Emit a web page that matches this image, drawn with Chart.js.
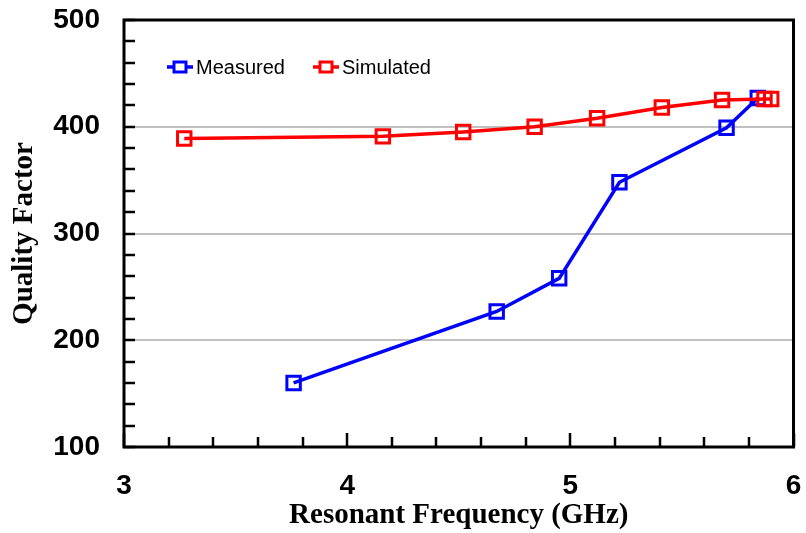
<!DOCTYPE html>
<html lang="en">
<head>
  <meta charset="UTF-8">
  <title>Quality Factor vs Resonant Frequency</title>
  <script src="https://cdn.jsdelivr.net/npm/chart.js"></script>
  <style>
    html, body { margin: 0; padding: 0; background: #fff; }
    #wrap { width: 806px; height: 533px; }
  </style>
</head>
<body>
<div id="wrap"><canvas id="grafik" width="806" height="533"></canvas></div>

<script>
  // data
  const measuredFreq = [3.76, 4.67, 4.95, 5.22, 5.70, 5.84];
  const measuredQ    = [160, 227, 258, 348, 399, 427];
  const simFreq = [3.27, 4.16, 4.52, 4.84, 5.12, 5.41, 5.68, 5.87, 5.90];
  const simQ    = [389, 391, 395, 400, 408, 418, 425, 426, 426];
  const xTicks = [3, 4, 5, 6];
  const yTicks = [100, 200, 300, 400, 500];
  const gridValues = [200, 300, 400];

  const toPoints = (xs, ys) => xs.map((x, i) => ({ x: x, y: ys[i] }));

  const tickFont = { family: 'Arial, "Liberation Sans", sans-serif', size: 28, weight: 'bold' };
  const titleFont = { family: '"Times New Roman", "Liberation Serif", serif', size: 29, weight: 'bold' };

  // box border, inward ticks and the legend inside the plot
  const kotakPlugin = {
    id: 'kotak',
    afterDraw(chart) {
      const ctx = chart.ctx;
      const a = chart.chartArea;
      const sx = chart.scales.x, sy = chart.scales.y;
      ctx.save();
      ctx.strokeStyle = '#000';
      ctx.lineWidth = 2.5;
      // minor + major ticks on x
      for (let v = 3; v <= 6.001; v += 0.2) {
        const px = Math.round(sx.getPixelForValue(v));
        const major = Math.abs(v - Math.round(v)) < 0.01;
        ctx.beginPath();
        ctx.moveTo(px, a.bottom);
        ctx.lineTo(px, a.bottom - (major ? 14 : 10));
        ctx.stroke();
      }
      // ticks on y
      for (let v = 100; v <= 500; v += 20) {
        const py = Math.round(sy.getPixelForValue(v));
        ctx.beginPath();
        ctx.moveTo(a.left, py);
        ctx.lineTo(a.left + 11, py);
        ctx.stroke();
      }
      ctx.lineWidth = 3;
      ctx.strokeRect(a.left, a.top, a.right - a.left, a.bottom - a.top);

      // legend
      const items = [
        { label: 'Measured', color: '#0000ff', x: 167 },
        { label: 'Simulated', color: '#ff0000', x: 313 }
      ];
      const ly = 67;
      ctx.font = '20px Arial, "Liberation Sans", sans-serif';
      ctx.textBaseline = 'middle';
      items.forEach(it => {
        ctx.strokeStyle = it.color;
        ctx.lineWidth = 3.5;
        ctx.beginPath();
        ctx.moveTo(it.x, ly);
        ctx.lineTo(it.x + 26, ly);
        ctx.stroke();
        ctx.fillStyle = '#fff';
        ctx.fillRect(it.x + 7, ly - 5, 12, 10);
        ctx.lineWidth = 3;
        ctx.strokeRect(it.x + 7, ly - 5, 12, 10);
        ctx.fillStyle = '#000';
        ctx.fillText(it.label, it.x + 29, ly + 1);
      });
      ctx.restore();
    }
  };

  const noPad = s => { s.paddingLeft = 0; s.paddingRight = 0; s.paddingTop = 0; s.paddingBottom = 0; };

  new Chart(document.getElementById('grafik').getContext('2d'), {
    type: 'line',
    data: {
      datasets: [
        {
          label: 'Simulated',
          data: toPoints(simFreq, simQ),
          borderColor: '#ff0000',
          borderWidth: 3.5,
          pointStyle: 'rect',
          pointRadius: 9.5,
          pointBorderWidth: 3,
          pointBackgroundColor: 'rgba(255,255,255,0)',
          tension: 0,
          fill: false
        },
        {
          label: 'Measured',
          data: toPoints(measuredFreq, measuredQ),
          borderColor: '#0000ff',
          borderWidth: 3.5,
          pointStyle: 'rect',
          pointRadius: 9.5,
          pointBorderWidth: 3,
          pointBackgroundColor: 'rgba(255,255,255,0)',
          tension: 0,
          fill: false
        }
      ]
    },
    options: {
      responsive: false,
      animation: false,
      events: [],
      layout: { padding: { top: 20, right: 10, left: 0, bottom: 0 } },
      plugins: { legend: { display: false }, tooltip: { enabled: false } },
      scales: {
        x: {
          type: 'linear',
          min: 3, max: 6,
          afterBuildTicks: s => { s.ticks = xTicks.map(v => ({ value: v })); },
          afterFit: s => { s.height = 86; noPad(s); },
          grid: { display: false, drawTicks: false },
          border: { display: false },
          ticks: { padding: 22, color: '#000', font: tickFont, maxRotation: 0 },
          title: {
            display: true,
            text: 'Resonant Frequency (GHz)',
            color: '#000',
            padding: { top: 0, bottom: 0 },
            font: titleFont
          }
        },
        y: {
          min: 100, max: 500,
          afterBuildTicks: s => { s.ticks = yTicks.map(v => ({ value: v })); },
          afterFit: s => { s.width = 124; noPad(s); },
          grid: {
            drawTicks: false,
            lineWidth: 2,
            color: c => gridValues.includes(c.tick.value) ? '#c0c0c0' : 'rgba(0,0,0,0)'
          },
          border: { display: false },
          ticks: { padding: 24, color: '#000', font: tickFont },
          title: {
            display: true,
            text: 'Quality Factor',
            color: '#000',
            padding: { top: 7, bottom: 0 },
            font: titleFont
          }
        }
      }
    },
    plugins: [kotakPlugin]
  });
</script>
</body>
</html>
